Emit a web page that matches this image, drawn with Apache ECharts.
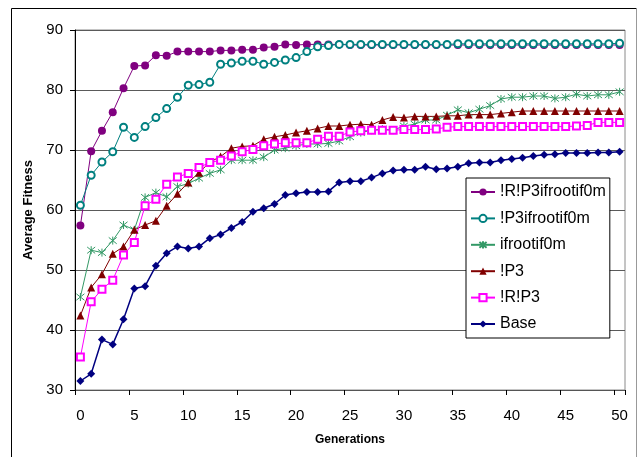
<!DOCTYPE html>
<html>
<head>
<meta charset="utf-8">
<script src="https://cdn.jsdelivr.net/npm/echarts@6/dist/echarts.min.js"></script>
<style>
html,body{margin:0;padding:0;background:#fff;}
#chart{width:639px;height:457px;}
</style>
</head>
<body>
<div id="chart"></div>
<script>
const generations = Array.from({length: 51}, (_, i) => String(i));
const yTicks = [30, 40, 50, 60, 70, 80, 90];
const seriesNames = ['!R!P3ifrootif0m', '!P3ifrootif0m', 'ifrootif0m', '!P3', '!R!P3', 'Base'];

const rp3ifroot = [57.4, 69.8, 73.2, 76.3, 80.3, 84.0, 84.1, 85.8, 85.7, 86.4,
  86.4, 86.4, 86.4, 86.6, 86.6, 86.7, 86.7, 87.1, 87.2, 87.6,
  87.5, 87.6, 87.6, 87.6, 87.6, 87.5, 87.5, 87.5, 87.5, 87.5,
  87.5, 87.5, 87.5, 87.5, 87.5, 87.5, 87.5, 87.5, 87.5, 87.5,
  87.5, 87.5, 87.5, 87.5, 87.5, 87.5, 87.5, 87.5, 87.5, 87.5, 87.5];
const p3ifroot = [60.8, 65.8, 68.0, 69.7, 73.8, 72.1, 73.9, 75.4, 76.9, 78.8,
  80.8, 80.9, 81.3, 84.3, 84.5, 84.8, 84.8, 84.3, 84.6, 85.0,
  85.4, 86.4, 87.2, 87.4, 87.6, 87.6, 87.6, 87.6, 87.6, 87.6,
  87.6, 87.6, 87.6, 87.6, 87.6, 87.7, 87.7, 87.7, 87.7, 87.7,
  87.7, 87.7, 87.7, 87.7, 87.7, 87.7, 87.7, 87.7, 87.7, 87.7, 87.8];
const ifroot = [45.5, 53.3, 52.9, 54.9, 57.5, 56.7, 62.1, 62.9, 62.2, 63.9,
  64.4, 65.3, 66.1, 66.7, 68.3, 68.3, 68.3, 68.8, 70.0, 70.3,
  70.7, 71.0, 71.0, 71.1, 71.5, 72.2, 72.9, 73.3, 73.5, 73.3,
  74.0, 74.3, 75.0, 75.0, 75.8, 76.7, 76.2, 76.8, 77.4, 78.5,
  78.8, 78.8, 79.0, 79.0, 78.6, 78.8, 79.3, 79.0, 79.2, 79.2, 79.7];
const p3 = [42.4, 47.1, 49.3, 52.7, 53.9, 56.7, 57.5, 58.2, 60.7, 62.7,
  64.6, 66.2, 68.0, 68.9, 70.3, 70.6, 70.7, 71.8, 72.2, 72.5,
  72.9, 73.2, 73.6, 74.0, 74.0, 74.2, 74.3, 74.2, 75.0, 75.5,
  75.4, 75.6, 75.6, 75.6, 75.7, 75.7, 75.9, 75.9, 75.9, 76.1,
  76.3, 76.5, 76.5, 76.5, 76.5, 76.5, 76.5, 76.5, 76.5, 76.5, 76.5];
const rp3 = [35.5, 44.7, 46.8, 48.3, 52.5, 54.6, 60.7, 61.8, 64.3, 65.5,
  66.1, 67.1, 67.9, 68.3, 69.0, 69.7, 70.1, 70.7, 71.0, 71.2,
  71.2, 71.2, 71.8, 72.3, 72.3, 73.0, 73.2, 73.3, 73.3, 73.3,
  73.4, 73.4, 73.4, 73.5, 73.8, 73.9, 73.9, 73.9, 73.9, 73.9,
  73.9, 73.9, 73.9, 73.9, 73.9, 73.9, 74.0, 74.1, 74.6, 74.6, 74.6];
const base = [31.5, 32.7, 38.4, 37.6, 41.8, 46.9, 47.3, 50.7, 52.8, 53.9,
  53.6, 53.9, 55.3, 55.9, 57.0, 58.0, 59.7, 60.3, 61.0, 62.5,
  62.8, 63.0, 63.0, 63.1, 64.6, 64.8, 64.8, 65.4, 66.1, 66.6,
  66.7, 66.7, 67.2, 66.8, 66.9, 67.2, 67.8, 67.9, 67.9, 68.3,
  68.5, 68.7, 69.0, 69.2, 69.3, 69.5, 69.5, 69.5, 69.6, 69.6, 69.7];

const font = "'Liberation Sans', Arial, sans-serif";
const asterisk = 'path://M1,1 L9,9 M9,1 L1,9 M5,0 L5,10';

const chart = echarts.init(document.getElementById('chart'), null, {renderer: 'canvas'});

function mk(name, data, color, symbol, size, extra) {
  return Object.assign({
    name: name,
    type: 'line',
    data: data,
    symbol: symbol,
    symbolSize: size,
    showAllSymbol: true,
    color: color,
    lineStyle: {color: color, width: 1},
    itemStyle: {color: color},
    emphasis: {disabled: true}
  }, extra || {});
}

chart.setOption({
  animation: false,
  backgroundColor: '#fff',
  textStyle: {fontFamily: font},
  graphic: [
    {type: 'polyline', shape: {points: [[11.5, 460], [11.5, 8.5], [636.5, 8.5]]}, style: {stroke: '#000', lineWidth: 1, fill: null}, silent: true},
    {type: 'line', shape: {x1: 636.5, y1: 8.5, x2: 636.5, y2: 460}, style: {stroke: '#999', lineWidth: 1}, silent: true}
  ],
  grid: {left: 75, right: 14, top: 30, bottom: 67, show: true, borderColor: '#8a8a8a', borderWidth: 1, backgroundColor: '#fff'},
  legend: {
    orient: 'vertical',
    left: 466, top: 178,
    data: seriesNames,
    backgroundColor: '#fff',
    borderColor: '#000',
    borderWidth: 1,
    borderRadius: 0,
    padding: [6, 4, 6, 4],
    itemGap: 10.4,
    itemWidth: 24,
    itemHeight: 9,
    textStyle: {fontSize: 16, color: '#000', fontFamily: font}
  },
  xAxis: {
    type: 'category',
    data: generations,
    boundaryGap: true,
    name: 'Generations',
    nameLocation: 'middle',
    nameGap: 44,
    nameTextStyle: {fontSize: 12, fontWeight: 'bold', color: '#000', fontFamily: font},
    axisLine: {lineStyle: {color: '#555', width: 1}},
    axisTick: {show: true, interval: 4, length: 5, lineStyle: {color: '#000'}},
    axisLabel: {interval: 4, fontSize: 15, color: '#000', margin: 18, fontFamily: font},
    splitLine: {show: false}
  },
  yAxis: {
    type: 'value',
    min: 30, max: 90, interval: 10,
    name: 'Average Fitness',
    nameLocation: 'middle',
    nameRotate: 90,
    nameGap: 38,
    nameTextStyle: {fontSize: 13, fontWeight: 'bold', color: '#000', fontFamily: font},
    axisLine: {show: true, lineStyle: {color: '#000', width: 1}},
    axisTick: {show: true, length: 5, lineStyle: {color: '#000'}},
    axisLabel: {fontSize: 15, color: '#000', margin: 12, fontFamily: font,
      formatter: function (v) { return yTicks.indexOf(v) >= 0 ? String(v) : ''; }},
    splitLine: {show: true, lineStyle: {color: '#5a5a5a', width: 1}}
  },
  series: [
    mk(seriesNames[0], rp3ifroot, '#800080', 'circle', 8),
    mk(seriesNames[1], p3ifroot, '#008080', 'emptyCircle', 7, {itemStyle: {color: '#008080', borderWidth: 1}}),
    mk(seriesNames[2], ifroot, '#339966', asterisk, 8, {itemStyle: {color: '#339966', borderColor: '#339966', borderWidth: 1}}),
    mk(seriesNames[3], p3, '#800000', 'triangle', 8),
    mk(seriesNames[4], rp3, '#FF00FF', 'emptyRect', 7, {itemStyle: {color: '#FF00FF', borderWidth: 1}}),
    mk(seriesNames[5], base, '#000080', 'diamond', 8, {lineStyle: {color: '#000080', width: 1.5}})
  ]
});
</script>
</body>
</html>
